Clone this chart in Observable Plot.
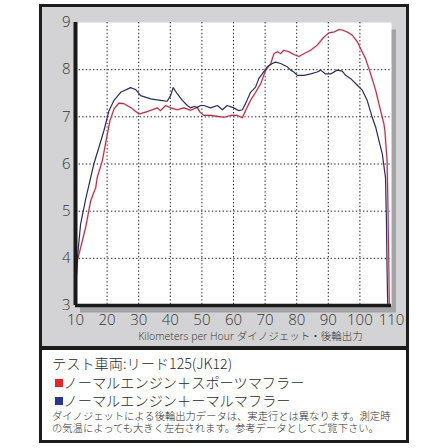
<!DOCTYPE html>
<html>
<head>
<meta charset="utf-8">
<script src="https://cdn.jsdelivr.net/npm/d3@7"></script>
<script src="https://cdn.jsdelivr.net/npm/@observablehq/plot@0.6"></script>
<style>
  html, body { margin: 0; padding: 0; background: #ffffff; }
  #wrap { position: relative; width: 448px; height: 448px; overflow: hidden; }
  #panel { position: absolute; left: 39px; top: 4px; width: 370px; height: 439px; box-sizing: border-box;
           border: 3px solid #1c1c1c; background: #d3d3d5; }
  #divider { position: absolute; left: 39px; top: 346px; width: 370px; height: 4px; background: #1c1c1c; }
  #textbox { position: absolute; left: 42px; top: 350px; width: 364px; height: 90px; background: #ffffff;
             box-sizing: border-box; padding: 4px 0 0 10px; color: #2a2a2a;
             font-family: "Noto Sans CJK JP", "Open Sans", sans-serif; font-weight: 300; }
  .big { font-size: 14.2px; line-height: 18.5px; white-space: nowrap; }
  .small { font-size: 10.3px; line-height: 12px; white-space: nowrap; }
  .sq { display: inline-block; width: 8px; height: 8px; margin: 0 0.5px 0 3px; vertical-align: 1px; }
  #chart { position: absolute; left: 0; top: 0; }
  #chart svg text { font-weight: 300; }
</style>
</head>
<body>
<div id="wrap">
  <div id="panel"></div>
  <div id="divider"></div>
  <div id="textbox"></div>
  <div id="chart"></div>
</div>
<script>
// ---- data ----
const xTicks = [10, 20, 30, 40, 50, 60, 70, 80, 90, 100, 110];
const yTicks = [3, 4, 5, 6, 7, 8, 9];
const xGrid = [20, 30, 40, 50, 60, 70, 80, 90, 100];
const yGrid = [4, 5, 6, 7, 8];

const axisTitle = "Kilometers per Hour ダイノジェット・後輪出力";
const vehicleLine = "テスト車両:リード125(JK12)";
const seriesNames = ["ノーマルエンジン＋スポーツマフラー", "ノーマルエンジン＋ーマルマフラー"];
const seriesColors = ["#e3262b", "#283593"];
const noteLines = [
  "ダイノジェットによる後輪出力データは、実走行とは異なります。測定時",
  "の気温によっても大きく左右されます。参考データとしてご覧下さい。"
];

// Red: normal engine + sport muffler (speed km/h, power)
const redSpeed = [10.0, 10.6, 13.2, 14.8, 16.4, 16.9, 18.5, 19.5, 20.9, 22.2, 23.7, 25.3, 27.4, 30.1, 32.2, 34.3, 35.9, 36.9, 38.5, 40.1, 42.2, 44.3, 46.4, 48.5, 49.4, 50.6, 52.8, 54.9, 57.0, 59.1, 61.2, 62.8, 63.8, 65.4, 67.0, 68.6, 70.2, 71.8, 72.8, 73.9, 74.9, 75.9, 77.5, 79.1, 80.7, 82.3, 84.4, 86.5, 88.6, 90.2, 91.8, 93.4, 94.4, 96.0, 97.6, 99.2, 100.2, 101.8, 103.4, 105.0, 106.0, 107.6, 107.9, 108.6, 108.9, 109.1, 109.3];
const redPower = [3.3, 3.95, 4.65, 5.22, 5.5, 5.72, 6.07, 6.43, 6.92, 7.17, 7.29, 7.28, 7.20, 7.06, 7.10, 7.15, 7.19, 7.13, 7.24, 7.19, 7.15, 7.19, 7.14, 7.20, 7.10, 7.03, 7.03, 7.01, 6.99, 7.03, 7.03, 6.98, 7.13, 7.35, 7.52, 7.70, 7.99, 8.13, 8.34, 8.38, 8.34, 8.41, 8.38, 8.32, 8.28, 8.34, 8.41, 8.52, 8.69, 8.78, 8.80, 8.85, 8.84, 8.80, 8.73, 8.59, 8.45, 8.23, 7.91, 7.56, 7.28, 6.85, 6.71, 6.07, 5.0, 4.09, 3.0];

// Blue: normal engine + normal muffler
const blueSpeed = [10.0, 10.6, 11.6, 13.2, 15.8, 17.4, 19.0, 20.6, 22.2, 24.3, 27.4, 29.0, 30.6, 33.8, 36.9, 39.0, 40.1, 40.9, 42.2, 43.8, 45.4, 46.4, 47.5, 48.5, 49.6, 50.6, 52.8, 54.9, 56.5, 58.0, 60.1, 61.7, 62.8, 63.8, 65.4, 67.0, 68.0, 69.1, 70.7, 72.3, 73.3, 74.9, 77.0, 78.1, 79.1, 80.2, 81.2, 82.3, 84.4, 86.5, 87.6, 89.1, 90.7, 92.8, 94.4, 95.5, 97.1, 99.2, 100.8, 102.3, 103.9, 105.0, 105.5, 107.1, 108.1, 108.4, 108.6, 108.8];
const bluePower = [3.3, 4.0, 4.72, 5.25, 6.0, 6.35, 6.71, 7.13, 7.35, 7.52, 7.62, 7.58, 7.45, 7.38, 7.35, 7.33, 7.45, 7.62, 7.49, 7.35, 7.24, 7.19, 7.22, 7.20, 7.24, 7.24, 7.19, 7.24, 7.15, 7.24, 7.19, 7.13, 7.15, 7.28, 7.52, 7.63, 7.81, 7.91, 8.06, 8.13, 8.16, 8.13, 8.06, 7.99, 7.95, 7.88, 7.88, 7.88, 7.91, 7.95, 7.99, 7.91, 7.91, 7.99, 7.97, 7.88, 7.81, 7.67, 7.56, 7.35, 6.99, 6.78, 6.64, 6.21, 5.71, 4.79, 3.73, 3.03];

const red = redSpeed.map((s, i) => ({speed: s, power: redPower[i]}));
const blue = blueSpeed.map((s, i) => ({speed: s, power: bluePower[i]}));

const chart = Plot.plot({
  width: 448,
  height: 350,
  marginLeft: 75,
  marginRight: 57,
  marginTop: 22,
  marginBottom: 45,
  style: {background: "transparent", fontFamily: "'Open Sans', 'Noto Sans CJK JP', sans-serif", color: "#333"},
  x: {domain: [10, 110]},
  y: {domain: [3, 9]},
  marks: [
    Plot.frame({fill: "#a4a4a6", stroke: null, dx: 4.5, dy: 7}),
    Plot.frame({fill: "#ffffff", stroke: null}),
    Plot.ruleX(xGrid, {stroke: "#222", strokeWidth: 1, strokeDasharray: "1.4 2.2"}),
    Plot.ruleY(yGrid, {stroke: "#222", strokeWidth: 1, strokeDasharray: "1.4 2.2"}),
    Plot.line(red, {x: "speed", y: "power", stroke: "#f3b9c3", strokeWidth: 2.6, strokeOpacity: 0.5}),
    Plot.line(red, {x: "speed", y: "power", stroke: "#a4354a", strokeWidth: 1.1}),
    Plot.line(blue, {x: "speed", y: "power", stroke: "#2a2d5e", strokeWidth: 1.2}),
    Plot.ruleX([10], {stroke: "#1a1a1a", strokeWidth: 4}),
    Plot.ruleY([3], {stroke: "#1a1a1a", strokeWidth: 3.5, x1: 10, x2: 110}),
    Plot.axisX({ticks: xTicks, tickFormat: d => String(d), tickSize: 0, tickPadding: 8.5, fontSize: 15, label: null, fill: "#333"}),
    Plot.axisY({ticks: yTicks, tickFormat: d => String(d), tickSize: 0, tickPadding: 5, fontSize: 15, label: null, fill: "#333"}),
    Plot.text([axisTitle], {text: d => d, frameAnchor: "bottom", dx: 17, dy: 34.5, fontSize: 10.5, fill: "#333"})
  ]
});
document.getElementById("chart").appendChild(chart);

// legend / notes box
const tb = document.getElementById("textbox");
const l1 = document.createElement("div");
l1.className = "big";
l1.textContent = vehicleLine;
tb.appendChild(l1);
seriesNames.forEach((name, i) => {
  const d = document.createElement("div");
  d.className = "big";
  const sq = document.createElement("span");
  sq.className = "sq";
  sq.style.background = seriesColors[i];
  d.appendChild(sq);
  d.appendChild(document.createTextNode(name));
  tb.appendChild(d);
});
const notes = document.createElement("div");
notes.style.marginTop = "0.5px";
noteLines.forEach(t => {
  const d = document.createElement("div");
  d.className = "small";
  d.textContent = t;
  notes.appendChild(d);
});
tb.appendChild(notes);
</script>
</body>
</html>
